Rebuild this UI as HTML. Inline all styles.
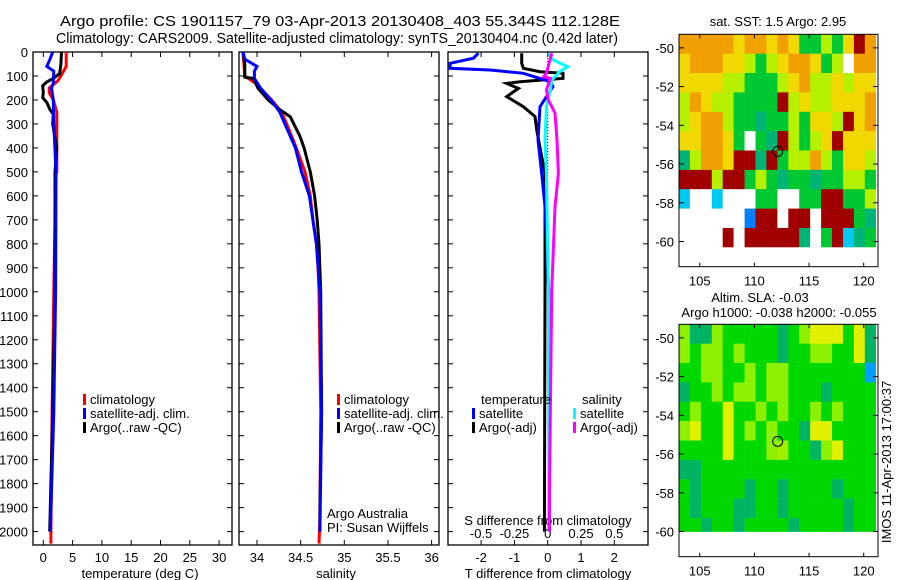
<!DOCTYPE html>
<html><head><meta charset="utf-8"><style>
body{margin:0;background:#fff;}
svg{display:block;font-family:"Liberation Sans",sans-serif;}
text{font-size:13px;fill:#000;}
</style></head><body>
<svg id="s" width="900" height="580" viewBox="0 0 900 580">
<text x="340" y="26" text-anchor="middle" textLength="560" lengthAdjust="spacingAndGlyphs" style="font-size:14.5px">Argo profile: CS 1901157_79 03-Apr-2013 20130408_403 55.344S 112.128E</text>
<text x="337" y="43" text-anchor="middle" textLength="562" lengthAdjust="spacingAndGlyphs" style="font-size:14.5px">Climatology: CARS2009. Satellite-adjusted climatology: synTS_20130404.nc (0.42d later)</text>
<g id="g"></g>
</svg>
<script>
// ---------- data ----------
const depthTicks=[0,100,200,300,400,500,600,700,800,900,1000,1100,1200,1300,1400,1500,1600,1700,1800,1900,2000];
const tempTicks=[0,5,10,15,20,25,30];
const salTicks=[34,34.5,35,35.5,36];
const dTTicks=[-2,-1,0,1,2];
const dSTicks=[-0.5,-0.25,0,0.25,0.5];
const tClimD=[0,60,100,120,150,170,200,250,500,520,700,1000,1500,2000,2050];
const tClimV=[3.9,3.9,3.0,2.5,1.0,1.0,1.7,2.3,2.3,2.0,2.0,1.8,1.5,1.3,1.3];
const tSatD=[0,30,60,80,130,150,200,300,500,1000,1500,2000];
const tSatV=[1.6,1.15,0.6,1.8,1.7,1.4,1.7,1.8,2.17,2.1,1.8,1.2];
const tArgoD=[0,50,90,110,125,140,170,190,210,240,260,300,400,500,1000,1500,1800,2000];
const tArgoV=[3.1,3.0,2.8,1.7,0.6,-0.1,0.0,-0.1,0.6,1.15,1.7,1.6,2.3,2.0,2.0,1.6,1.3,1.1];
const sClimD=[0,100,130,150,200,250,300,400,500,600,700,800,900,1000,1500,1950,2050];
const sClimV=[33.84,33.86,33.98,34.03,34.17,34.28,34.34,34.45,34.55,34.61,34.64,34.68,34.70,34.71,34.73,34.72,34.71];
const sSatD=[0,30,60,80,110,150,200,250,300,400,500,600,700,800,1000,1500,2000];
const sSatV=[33.84,33.86,34.0,33.97,33.97,34.04,34.16,34.26,34.32,34.44,34.51,34.60,34.64,34.68,34.72,34.74,34.72];
const sArgoD=[0,50,105,110,150,200,240,270,350,400,500,600,700,800,1000,1500,1900,2000];
const sArgoV=[33.84,33.86,33.86,33.96,34.01,34.13,34.26,34.38,34.49,34.54,34.61,34.66,34.69,34.71,34.73,34.74,34.72,34.72];
const dTSatD=[5,26,47,68,75,89,124,144,228,367,506,645,1000,2000];
const dTSatV=[-2.08,-2.23,-2.93,-2.93,-1.73,-0.73,0.07,0.16,-0.23,-0.29,-0.18,-0.08,0.03,0.05];
const dTArgoD=[5,47,68,82,89,110,124,131,152,186,228,269,325,436,506,1000,2000];
const dTArgoV=[-0.78,-0.78,-0.73,-0.23,0.46,0.46,-0.83,-1.23,-0.88,-1.23,-0.73,-0.38,-0.33,-0.18,-0.08,-0.08,-0.1];
const dSSatD=[5,33,61,82,117,158,228,367,506,1000,2000];
const dSSatV=[0.005,0.04,0.15,0.09,0.03,0.02,-0.01,-0.02,-0.01,0.005,0.01];
const dSArgoD=[5,89,103,110,158,200,255,367,506,645,1000,2000];
const dSArgoV=[0.03,-0.01,-0.03,0.02,-0.01,0.005,0.055,0.07,0.08,0.055,0.03,0.01];
const latTicks=[-50,-52,-54,-56,-58,-60];
const lonTicks=[105,110,115,120];
const sstRows=[
"oooooyooyoygglgyro","yoooyylglyooyglwoo","yyyyllggglyollylyy","loyllggggrlyllyyyo",
"lyoolggtgglgyylryo","yyooygwgtrlglyryyy","tlooyrrtrgllolgyyl","rrrlrrglgtggtggllg",
"cwwcwwwggwwggrrggl","wwwwwwbrrwrrwrrrgt","wwwwrwrrrrrtwgrctg","wwwwwwwwwwwwwwwwww"];
const slaRows=[
"lttlgggggtglyyygyt","lgllglgggtggllggyt","ggllgglgllgggggggc","tgglgllgllgggtgggg",
"glggygglglgglglggg","lyggyglglggtyygggg","ggggygggliggtlyggg","ttgggggggggggggggg",
"gtggggtggtggggtggg","gtgggttggtgggggtgg","ggtggtggggtggggtgg"];
const argoLon=112.128, argoLat=-55.344;
// ---------- helpers ----------
const NS="http://www.w3.org/2000/svg", G=document.getElementById('g');
function mk(t,a,p){const e=document.createElementNS(NS,t);for(const k in a)e.setAttribute(k,a[k]);(p||G).appendChild(e);return e;}
const yD=d=>52+d*0.2398;
const xT=v=>43.3+v*5.86, xS=v=>257+(v-34)*87.3, xdT=v=>547.7+v*33.3, xdS=v=>547.7+v*133.2;
function line(D,V,fx,col,name,w){
  const p=mk('polyline',{points:D.map((d,i)=>fx(V[i]).toFixed(1)+','+yD(d).toFixed(1)).join(' '),fill:'none',stroke:col,'stroke-width':w||3});
  
  
}
function panel(x0,x1,name){
  const r=mk('rect',{x:x0,y:52,width:x1-x0,height:493,fill:'none',stroke:'#000','stroke-width':1.3});
  
  
  depthTicks.forEach(d=>{mk('line',{x1:x0,x2:x0+5,y1:yD(d),y2:yD(d),stroke:'#000'});mk('line',{x1:x1,x2:x1-5,y1:yD(d),y2:yD(d),stroke:'#000'});});
}
function xticks(ticks,fx,lab,y){
  ticks.forEach(v=>{const x=fx(v);
    mk('line',{x1:x,x2:x,y1:545,y2:540,stroke:'#000'});mk('line',{x1:x,x2:x,y1:52,y2:57,stroke:'#000'});
    const t=mk('text',{x:x,y:y,'text-anchor':'middle'});t.textContent=lab(v);
    
    });
}
function txt(x,y,s,name,anchor,extra){const t=mk('text',Object.assign({x:x,y:y,'text-anchor':anchor||'start'},extra||{}));t.textContent=s;
  
  return t;}
function legend(x,y,col,s){const r=mk('rect',{x:x,y:y-10,width:3,height:11,fill:col});
  
  
  txt(x+7,y,s,'legend-entry');}
// ---------- panel 1 ----------
panel(33,232,'temperature-panel');
depthTicks.forEach(d=>{const t=txt(28,yD(d)+5,String(d),'y-tick-label','end');});
xticks(tempTicks,xT,v=>String(v),562);
txt(140,578,'temperature (deg C)','x-axis-title-temperature','middle');
line(tClimD,tClimV,xT,'#f00','temp-climatology');
line(tArgoD,tArgoV,xT,'#000','temp-argo');
line(tSatD,tSatV,xT,'#00f','temp-satellite');
legend(83,404,'#f00','climatology');legend(83,418,'#00f','satellite-adj. clim.');legend(83,432,'#000','Argo(..raw -QC)');
// ---------- panel 2 ----------
panel(239,439,'salinity-panel');
xticks(salTicks,xS,v=>String(v),562);
txt(336,578,'salinity','x-axis-title-salinity','middle');
line(sClimD,sClimV,xS,'#f00','sal-climatology');
line(sArgoD,sArgoV,xS,'#000','sal-argo');
line(sSatD,sSatV,xS,'#00f','sal-satellite');
legend(337,404,'#f00','climatology');legend(337,418,'#00f','satellite-adj. clim.');legend(337,432,'#000','Argo(..raw -QC)');
txt(327,518,'Argo Australia','credit-line-1');txt(327,532,'PI: Susan Wijffels','credit-line-2');
// ---------- panel 3 ----------
panel(448,648,'difference-panel');
mk('line',{x1:xdT(0),x2:xdT(0),y1:52,y2:300,stroke:'#000','stroke-dasharray':'1,2'});
xticks(dTTicks,xdT,v=>String(v),562);
dSTicks.forEach(v=>txt(xdS(v),538,String(v),'s-tick-label','middle'));
txt(548,525,'S difference from climatology','s-axis-title','middle');
txt(548,578,'T difference from climatology','t-axis-title','middle');
line(dTArgoD,dTArgoV,xdT,'#000','dT-argo');
line(dTSatD,dTSatV,xdT,'#00f','dT-satellite');
line(dSSatD,dSSatV,xdS,'#0ff','dS-satellite');
line(dSArgoD,dSArgoV,xdS,'#f0f','dS-argo');
txt(481,404,'temperature','legend-title-temperature');txt(582,404,'salinity','legend-title-salinity');
legend(472,418,'#00f','satellite');legend(472,432,'#000','Argo(-adj)');
legend(573,418,'#0ff','satellite');legend(573,432,'#f0f','Argo(-adj)');
// ---------- maps ----------
const C1={o:'#f0a000',y:'#f0d800',l:'#b4f000',g:'#00c832',t:'#00b478',r:'#a00000',c:'#00c8f0',b:'#0080ff',w:'#ffffff'};
const C2={g:'#00d800',t:'#00b464',l:'#8cf000',y:'#e0f000',i:'#a0f000',c:'#00a0ff'};
function map(top,bot,rows,cols,name,latMin){
  const xL=v=>679+(v-103.1)*10.93, yL=v=>top+(-49.3-v)*((bot-top)/12);
  rows.forEach((row,j)=>{for(let i=0;i<row.length;i++){
    const la0=-49.3-j, la1=Math.max(-50.3-j,latMin), lo=103.1+i;
    const r=mk('rect',{x:xL(lo).toFixed(1),y:yL(la0).toFixed(1),width:(10.93+0.3).toFixed(2),height:(yL(la1)-yL(la0)+0.3).toFixed(2),fill:cols[row[i]]||'#fff'});
    
    }});
  const b=mk('rect',{x:679,y:top,width:199,height:bot-top,fill:'none',stroke:'#000'});
  
  
  latTicks.forEach(v=>{const y=yL(v);mk('line',{x1:679,x2:684,y1:y,y2:y,stroke:'#000'});mk('line',{x1:878,x2:873,y1:y,y2:y,stroke:'#000'});txt(674,y+5,String(v),'lat-tick-label','end');});
  lonTicks.forEach(v=>{const x=xL(v);mk('line',{x1:x,x2:x,y1:top,y2:top+4,stroke:'#000'});mk('line',{x1:x,x2:x,y1:bot,y2:bot-4,stroke:'#000'});txt(x,bot+19,String(v),'lon-tick-label','middle');});
  const c=mk('circle',{cx:xL(argoLon),cy:yL(argoLat),r:5,fill:'none',stroke:'#000'});
  
  
}
map(34.3,266.7,sstRows,C1,'sst-map',-99);
txt(778,26,'sat. SST: 1.5 Argo: 2.95','sst-map-title','middle');
map(324.3,556.7,slaRows,C2,'sla-map',-60);
txt(760,302,'Altim. SLA: -0.03','sla-map-title','middle');
txt(779,317,'Argo h1000: -0.038 h2000: -0.055','sla-map-subtitle','middle');
txt(0,0,'IMOS 11-Apr-2013 17:00:37','timestamp','middle',{transform:'translate(891,462) rotate(-90)'});
</script>
</body></html>
